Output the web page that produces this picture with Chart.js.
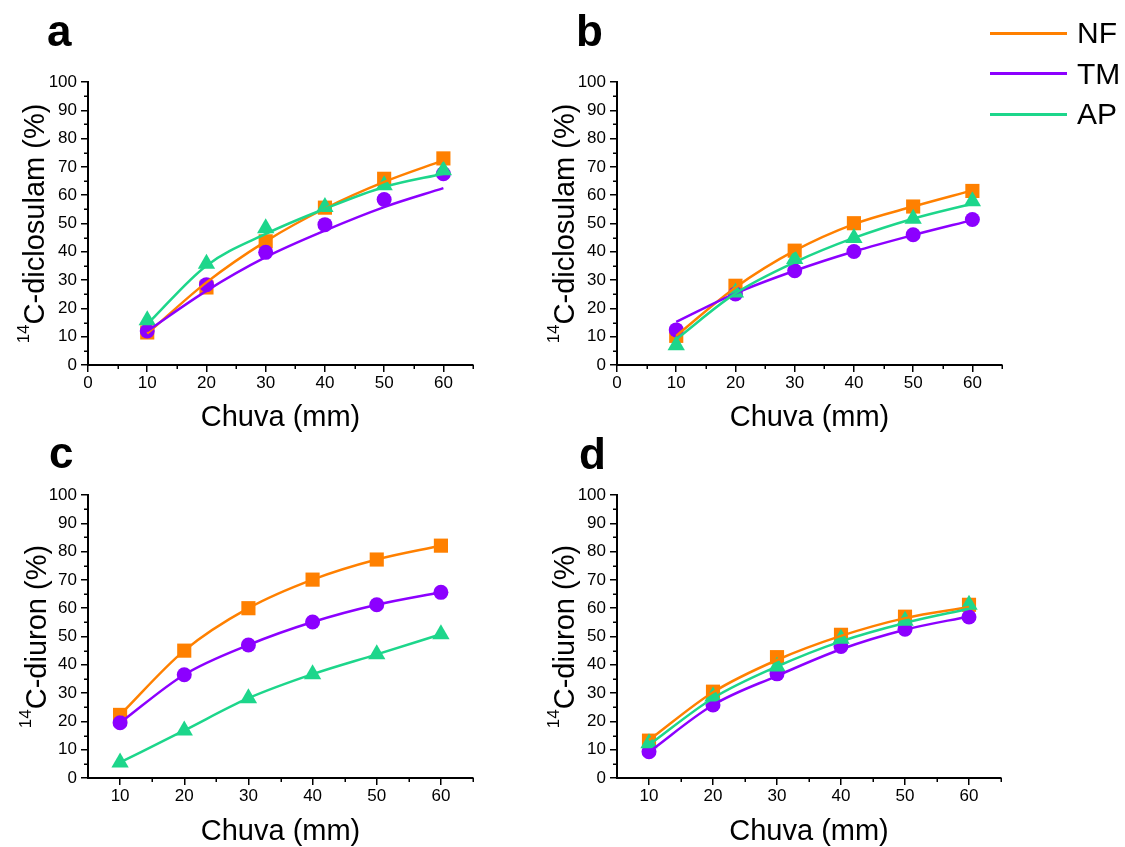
<!DOCTYPE html>
<html>
<head>
<meta charset="utf-8">
<script src="https://cdn.jsdelivr.net/npm/chart.js@4.4.1/dist/chart.umd.min.js"></script>
<style>
  body { margin: 0; background: #fff; width: 1125px; height: 847px; position: relative; overflow: hidden;
         font-family: "Liberation Sans", Arial, sans-serif; color: #000; }
  canvas { position: absolute; }
  .tag { position: absolute; font-weight: bold; font-size: 44px; line-height: 44px; }
  .key { position: absolute; left: 990px; height: 30px; display: flex; align-items: center; }
  .key i { display: block; width: 77px; height: 3px; margin-right: 10px; }
  .key span { font-size: 30px; line-height: 30px; }
</style>
</head>
<body>
<canvas id="chartA" width="540" height="440" style="left:0;top:0"></canvas>
<canvas id="chartB" width="540" height="440" style="left:530px;top:0"></canvas>
<canvas id="chartC" width="540" height="427" style="left:0;top:420px"></canvas>
<canvas id="chartD" width="540" height="427" style="left:530px;top:420px"></canvas>

<div class="tag" style="left:47px;top:9px">a</div>
<div class="tag" style="left:576px;top:9px">b</div>
<div class="tag" style="left:49px;top:431px">c</div>
<div class="tag" style="left:579px;top:432px">d</div>
<div id="legend"></div>

<script>
// rainfall levels (mm)
let rain = [10, 20, 30, 40, 50, 60];

let names = ['NF', 'TM', 'AP'];
let colors = ['#FF8000', '#8C00FF', '#1DD68B'];
let shapes = ['rect', 'circle', 'triangle'];
let radii = [10, 7.5, 10];

let yTicks = [0, 10, 20, 30, 40, 50, 60, 70, 80, 90, 100];
let yMinor = [5, 15, 25, 35, 45, 55, 65, 75, 85, 95];
let xTicksTop = [0, 10, 20, 30, 40, 50, 60];
let xMinorTop = [5, 15, 25, 35, 45, 55, 65];
let xTicksBottom = [10, 20, 30, 40, 50, 60];
let xMinorBottom = [15, 25, 35, 45, 55, 65];

// a - 14C-diclosulam, measured
let aNF = [11.5, 27.4, 43.7, 55.6, 65.8, 73.0];
let aTM = [12.0, 28.4, 39.8, 49.6, 58.5, 67.6];
let aAP = [15.8, 35.8, 48.3, 55.8, 63.5, 68.8];
// a - fitted curves
let aNFfit = [11.1, 29.2, 43.7, 55.3, 64.7, 72.3];
let aTMfit = [12.0, 26.2, 38.1, 47.5, 55.8, 62.5];
let aAPfit = [14.4, 35.1, 46.3, 55.2, 62.9, 67.6];

// b - 14C-diclosulam, measured
let bNF = [10.3, 28.0, 40.4, 50.1, 56.0, 61.5];
let bTM = [12.4, 25.1, 33.3, 40.1, 46.0, 51.4];
let bAP = [7.0, 25.6, 37.5, 44.9, 51.7, 57.9];
// b - fitted curves
let bNFfit = [10.3, 27.4, 40.4, 49.8, 56.0, 61.7];
let bTMfit = [15.2, 25.3, 33.3, 40.1, 45.9, 51.2];
let bAPfit = [9.1, 25.3, 36.3, 44.9, 51.7, 57.0];

// c - 14C-diuron
let cNF = [22.3, 45.0, 60.0, 70.1, 77.2, 82.1];
let cTM = [19.5, 36.5, 47.0, 55.1, 61.2, 65.6];
let cAP = [5.5, 16.8, 28.2, 36.7, 43.7, 50.8];

// d - 14C-diuron, measured
let dNF = [13.2, 30.5, 42.7, 50.6, 57.0, 61.2];
let dTM = [9.3, 25.8, 36.8, 46.5, 52.6, 56.9];
let dAP = [12.3, 28.8, 39.4, 49.2, 55.6, 61.2];
// d - fitted curves
let dNFfit = [13.4, 30.3, 41.7, 50.2, 56.5, 60.4];
let dTMfit = [9.2, 25.8, 36.1, 45.5, 52.4, 57.1];
let dAPfit = [11.7, 28.2, 39.4, 48.3, 54.8, 59.8];

const FONT = '"Liberation Sans", Arial, sans-serif';
Chart.defaults.font.family = FONT;
Chart.defaults.color = '#000';

// short unlabeled ticks between the major ones
const minorTicks = {
  id: 'minorTicks',
  afterDraw(chart, args, opts) {
    const { ctx, scales: { x, y } } = chart;
    ctx.save();
    ctx.strokeStyle = '#000';
    ctx.lineWidth = 1.5;
    ctx.beginPath();
    opts.x.forEach(v => {
      const px = Math.round(x.getPixelForValue(v)) + 0.25;
      ctx.moveTo(px, x.top);
      ctx.lineTo(px, x.top + 4);
    });
    opts.y.forEach(v => {
      const py = Math.round(y.getPixelForValue(v)) + 0.25;
      ctx.moveTo(y.right, py);
      ctx.lineTo(y.right - 4, py);
    });
    ctx.stroke();
    ctx.restore();
  }
};

// vertical axis title with a superscript mass number
const yTitle = {
  id: 'yTitle',
  afterDraw(chart, args, opts) {
    const { ctx, chartArea } = chart;
    ctx.save();
    ctx.fillStyle = '#000';
    ctx.textBaseline = 'alphabetic';
    ctx.font = '17px ' + FONT;
    const w1 = ctx.measureText(opts.sup).width;
    ctx.font = '29px ' + FONT;
    const w2 = ctx.measureText(opts.text).width;
    ctx.translate(opts.x, (chartArea.top + chartArea.bottom) / 2);
    ctx.rotate(-Math.PI / 2);
    const start = -(w1 + w2) / 2;
    ctx.font = '17px ' + FONT;
    ctx.fillText(opts.sup, start, -15);
    ctx.font = '29px ' + FONT;
    ctx.fillText(opts.text, start + w1, 0);
    ctx.restore();
  }
};

function makePanel(id, box, xTicks, xMinor, xMin, label, points, fits) {
  const datasets = [];
  points.forEach((vals, i) => datasets.push({
    type: 'scatter',
    label: names[i],
    data: rain.map((x, k) => ({ x: x, y: vals[k] })),
    pointStyle: shapes[i],
    pointRadius: radii[i],
    pointHoverRadius: radii[i],
    backgroundColor: colors[i],
    borderWidth: 0,
    clip: false,
    order: 10 - i
  }));
  fits.forEach((vals, i) => datasets.push({
    type: 'line',
    label: names[i] + ' fit',
    data: rain.map((x, k) => ({ x: x, y: vals[k] })),
    borderColor: colors[i],
    borderWidth: 2.5,
    pointRadius: 0,
    cubicInterpolationMode: 'monotone',
    fill: false,
    clip: false,
    order: 3 - i
  }));

  const tickGrid = { drawOnChartArea: false, drawTicks: true, tickLength: 7, color: '#000', lineWidth: 1.5 };

  return new Chart(document.getElementById(id), {
    type: 'scatter',
    data: { datasets: datasets },
    options: {
      responsive: false,
      animation: false,
      layout: { padding: { left: 0, top: box.top, right: box.right, bottom: 0 } },
      plugins: {
        legend: { display: false },
        tooltip: { enabled: false },
        minorTicks: { x: xMinor, y: yMinor },
        yTitle: { sup: '14', text: label, x: box.titleX }
      },
      scales: {
        x: {
          type: 'linear',
          min: xMin,
          max: 65,
          afterBuildTicks: s => { s.ticks = xTicks.map(v => ({ value: v })); },
          afterFit: s => { s.height = box.xHeight; },
          grid: tickGrid,
          border: { display: true, color: '#000', width: 2 },
          ticks: { font: { size: 17 }, color: '#000', padding: 1, maxRotation: 0 },
          title: { display: true, text: 'Chuva (mm)', color: '#000',
                   font: { size: 29, lineHeight: 1 }, padding: { top: 0, bottom: box.titlePad } }
        },
        y: {
          type: 'linear',
          min: 0,
          max: 100,
          afterBuildTicks: s => { s.ticks = yTicks.map(v => ({ value: v })); },
          afterFit: s => { s.width = box.yWidth; },
          grid: tickGrid,
          border: { display: true, color: '#000', width: 2 },
          ticks: { font: { size: 17 }, color: '#000', padding: 4 }
        }
      }
    },
    plugins: [minorTicks, yTitle]
  });
}

makePanel('chartA', { top: 82, right: 67, xHeight: 75, yWidth: 88, titlePad: 8, titleX: 44 },
  xTicksTop, xMinorTop, 0, 'C-diclosulam (%)', [aNF, aTM, aAP], [aNFfit, aTMfit, aAPfit]);
makePanel('chartB', { top: 82, right: 68, xHeight: 75, yWidth: 87, titlePad: 8, titleX: 44 },
  xTicksTop, xMinorTop, 0, 'C-diclosulam (%)', [bNF, bTM, bAP], [bNFfit, bTMfit, bAPfit]);
makePanel('chartC', { top: 75, right: 67, xHeight: 69, yWidth: 88, titlePad: 1, titleX: 46 },
  xTicksBottom, xMinorBottom, 5, 'C-diuron (%)', [cNF, cTM, cAP], [cNF, cTM, cAP]);
makePanel('chartD', { top: 75, right: 69, xHeight: 69, yWidth: 87, titlePad: 1, titleX: 44 },
  xTicksBottom, xMinorBottom, 5, 'C-diuron (%)', [dNF, dTM, dAP], [dNFfit, dTMfit, dAPfit]);

// shared key, top right
const legend = document.getElementById('legend');
names.forEach((n, i) => {
  const row = document.createElement('div');
  row.className = 'key';
  row.style.top = (18 + i * 40.5) + 'px';
  row.innerHTML = '<i style="background:' + colors[i] + '"></i><span>' + n + '</span>';
  legend.appendChild(row);
});
</script>
</body>
</html>
